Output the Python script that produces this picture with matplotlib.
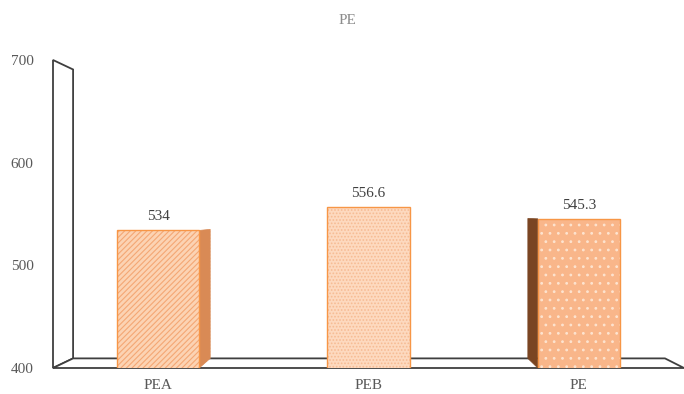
import matplotlib
matplotlib.use("Agg")
from matplotlib import pyplot as plt
from matplotlib.patches import Polygon
import numpy as np

# data
categories = ['PEA', 'PEB', 'PE']
values = [534, 556.6, 545.3]
yticks = [400, 500, 600, 700]
title = 'PE'

plt.rcParams['font.family'] = ['Liberation Serif', 'DejaVu Serif']
plt.rcParams['hatch.linewidth'] = 0.8

fig = plt.figure(figsize=(6.84, 3.94), dpi=100)
ax = fig.add_axes([53/684, 26/394, 631/684, 308/394])
ax.set_xlim(-0.5, 2.5)
ax.set_ylim(400, 700)

# perspective helpers (vanishing point + depth factor)
vp_x, vp_y, k = 1.04, 551.0, 0.062

def back(x, y):
    return x + (vp_x - x) * k, y + (vp_y - y) * k

edge = '#3f3f3f'

# wall
x0, y0, y1 = -0.5, 400, 700
bx0, by0 = back(x0, y0)
bx1, by1 = back(x0, y1)
ax.add_patch(Polygon([(x0, y0), (x0, y1), (bx1, by1), (bx0, by0)], closed=True,
                     facecolor='white', edgecolor=edge, lw=1.3, clip_on=False, zorder=1))
# floor
x2 = 2.5
bx2, by2 = back(x2, y0)
ax.add_patch(Polygon([(x0, y0), (bx0, by0), (bx2, by2), (x2, y0)], closed=True,
                     facecolor='white', edgecolor=edge, lw=1.3, clip_on=False, zorder=1))

x = np.arange(len(categories))
w = 0.39
fills = ['#fcd3b3', '#fdd9bf', '#f9b68a']
hatches = ['//////', '.....', '..']
hatch_cols = ['#f4a774', '#f6bb93', '#fde3cf']
side_cols = ['#d98a55', None, '#7a4522']

for xi, v, fc, h, hc, sc in zip(x, values, fills, hatches, hatch_cols, side_cols):
    xl, xr = xi - w/2, xi + w/2
    # visible side face
    if sc is not None:
        ex = xr if xr < vp_x else xl
        bxa, bya = back(ex, 400)
        bxb, byb = back(ex, v)
        side = Polygon([(ex, 400), (ex, v), (bxb, byb), (bxa, bya)], closed=True,
                       facecolor=sc, edgecolor=sc, lw=0.5, clip_on=False, zorder=2,
                       hatch='-----' if xi == 0 else None)
        ax.add_patch(side)
    ax.bar(xi, v, width=w, color=fc, edgecolor='none', zorder=3)
    ax.bar(xi, v, width=w, color='none', edgecolor=hc, hatch=h, lw=0, zorder=4)
    ax.bar(xi, v, width=w, color='none', edgecolor='#f79646', lw=1.0, zorder=5)
    ax.text(xi, v + 7, '{:g}'.format(v), ha='center', va='bottom',
            fontsize=11, color='#404040', zorder=6)

ax.set_xticks(x)
ax.set_xticklabels(categories)
ax.set_yticks(yticks)
for s in ax.spines.values():
    s.set_visible(False)
ax.tick_params(axis='both', length=0, labelsize=11, colors='#595959')
ax.tick_params(axis='y', pad=14)
ax.tick_params(axis='x', pad=8)
ax.patch.set_alpha(0)

fig.text(347/684, 1 - 21/394, title, ha='center', va='center', fontsize=11, color='#8c8c8c')

fig.savefig('out.png', dpi=100)
